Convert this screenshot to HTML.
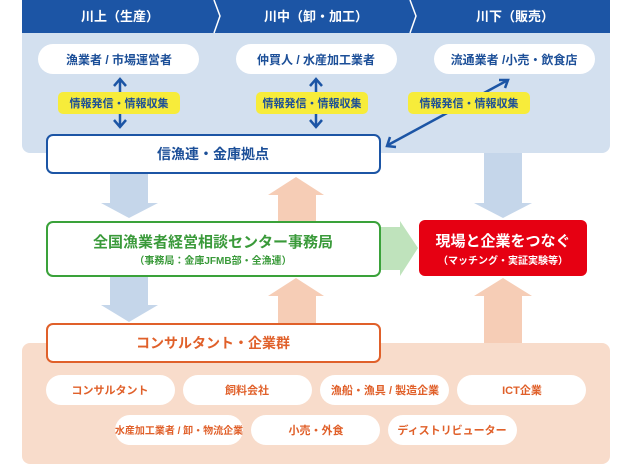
<!DOCTYPE html>
<html><head><meta charset="utf-8"><style>
body{margin:0;background:#fff}
svg text{font-family:"Liberation Sans","Noto Sans CJK JP",sans-serif}
</style></head><body>
<svg width="625" height="468" viewBox="0 0 625 468" xmlns="http://www.w3.org/2000/svg">
<rect x="22" y="0" width="588" height="153" rx="8" fill="#d3e0ef"/>
<path d="M22 0 H610 V33 H22 Z" fill="#1c55a5"/>
<path d="M214 0 L220 16 L214 33" stroke="#fff" stroke-width="1.5" fill="none"/>
<path d="M410 0 L416 16 L410 33" stroke="#fff" stroke-width="1.5" fill="none"/>
<g font-size="13" font-weight="bold" fill="#fff" text-anchor="middle">
<text x="120" y="21">川上（生産）</text>
<text x="316" y="21">川中（卸・加工）</text>
<text x="515" y="21">川下（販売）</text>
</g>
<g fill="#fff">
<rect x="38" y="44" width="161" height="30" rx="15"/>
<rect x="236" y="44" width="161" height="30" rx="15"/>
<rect x="434" y="44" width="161" height="30" rx="15"/>
</g>
<g font-size="12" font-weight="bold" fill="#1c4f98" text-anchor="middle">
<text x="119" y="64">漁業者 / 市場運営者</text>
<text x="316" y="64">仲買人 / 水産加工業者</text>
<text x="514" y="64">流通業者 /小売・飲食店</text>
</g>
<rect x="22" y="343" width="588" height="121" rx="8" fill="#f8dccb"/>
<g fill="#c5d6ea">
<path d="M110 173 H148 V203 H158 L129 218 L101 203 H110 Z"/>
<path d="M484 153 H522 V203 H532 L503 218 L474 203 H484 Z"/>
<path d="M110 276 H148 V305 H158 L129 322 L101 305 H110 Z"/>
</g>
<g fill="#f6cdb6">
<path d="M296 177 L324 195 H316 V221 H278 V195 H268 Z"/>
<path d="M296 278 L324 296 H316 V325 H278 V296 H268 Z"/>
<path d="M503 278 L532 296 H522 V343 H484 V296 H474 Z"/>
</g>
<path d="M380 227 H400 V221 L418 248 L400 276 V270 H380 Z" fill="#bfe3bc"/>
<g stroke="#1c55a5" stroke-width="2.5" fill="none">
<line x1="120" y1="80" x2="120" y2="126"/>
<path d="M114 86 L120 79 L126 86"/><path d="M114 120 L120 127 L126 120"/>
<line x1="316" y1="80" x2="316" y2="126"/>
<path d="M310 86 L316 79 L322 86"/><path d="M310 120 L316 127 L322 120"/>
<line x1="508" y1="80" x2="388" y2="145"/>
<path d="M499 80 L508 80 L505 88"/><path d="M390 137 L387 146 L396 147"/>
</g>
<g fill="#f7ec3a">
<rect x="58" y="92" width="122" height="22" rx="5"/>
<rect x="256" y="92" width="112" height="22" rx="5"/>
<rect x="408" y="92" width="122" height="22" rx="5"/>
</g>
<g font-size="11" font-weight="bold" fill="#1c4f98" text-anchor="middle">
<text x="119" y="107">情報発信・情報収集</text>
<text x="312" y="107">情報発信・情報収集</text>
<text x="469" y="107">情報発信・情報収集</text>
</g>
<rect x="47" y="135" width="333" height="38" rx="6" fill="#fff" stroke="#1c55a5" stroke-width="2"/>
<text x="213" y="159" font-size="14" font-weight="bold" fill="#1c4f98" text-anchor="middle">信漁連・金庫拠点</text>
<rect x="47" y="222" width="333" height="54" rx="6" fill="#fff" stroke="#3aa23a" stroke-width="2"/>
<text x="213" y="247" font-size="15" font-weight="bold" fill="#3a9a3a" text-anchor="middle">全国漁業者経営相談センター事務局</text>
<text x="213" y="264" font-size="10" font-weight="bold" fill="#3a9a3a" text-anchor="middle">（事務局：金庫JFMB部・全漁連）</text>
<rect x="419" y="220" width="168" height="56" rx="6" fill="#e60012"/>
<text x="503" y="246" font-size="15" font-weight="bold" fill="#fff" text-anchor="middle">現場と企業をつなぐ</text>
<text x="503" y="264" font-size="10" font-weight="bold" fill="#fff" text-anchor="middle">（マッチング・実証実験等）</text>
<rect x="47" y="324" width="333" height="38" rx="6" fill="#fff" stroke="#e0602a" stroke-width="2"/>
<text x="213" y="348" font-size="14" font-weight="bold" fill="#e0602a" text-anchor="middle">コンサルタント・企業群</text>
<g fill="#fff">
<rect x="46" y="375" width="129" height="30" rx="15"/>
<rect x="183" y="375" width="129" height="30" rx="15"/>
<rect x="320" y="375" width="129" height="30" rx="15"/>
<rect x="457" y="375" width="129" height="30" rx="15"/>
<rect x="115" y="415" width="128" height="30" rx="15"/>
<rect x="251" y="415" width="129" height="30" rx="15"/>
<rect x="388" y="415" width="129" height="30" rx="15"/>
</g>
<g font-size="11" font-weight="bold" fill="#e0602a" text-anchor="middle">
<text x="110" y="394">コンサルタント</text>
<text x="247" y="394">飼料会社</text>
<text x="385" y="394">漁船・漁具 / 製造企業</text>
<text x="522" y="394">ICT企業</text>
<text x="179" y="434" font-size="10">水産加工業者 / 卸・物流企業</text>
<text x="316" y="434">小売・外食</text>
<text x="452" y="434">ディストリビューター</text>
</g>
</svg>
</body></html>
